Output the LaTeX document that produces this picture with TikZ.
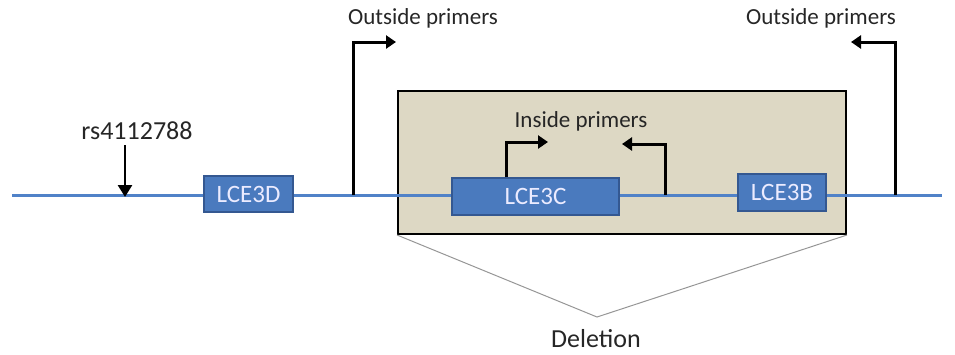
\documentclass[tikz,border=0pt]{standalone}
\usepackage{fontspec}
\setmainfont{Carlito}
\usetikzlibrary{arrows.meta}
\definecolor{geneblue}{RGB}{74,122,190}
\definecolor{geneedge}{RGB}{52,88,145}
\definecolor{linkblue}{RGB}{80,130,200}
\definecolor{delfill}{RGB}{221,216,196}
\definecolor{delgrey}{RGB}{150,150,150}
\tikzset{
  gene/.style={draw=geneedge, line width=1.2pt, fill=geneblue, text=white!92!blue,
    inner sep=0pt, font=\fontsize{25}{27}\selectfont},
  primer/.style={draw=black, line width=3pt,
    -{Triangle[length=10pt,width=13pt]}},
  label/.style={inner sep=0pt, font=\fontsize{23}{25}\selectfont, text=black!85},
}
\begin{document}
\begin{tikzpicture}[x=1pt,y=-1pt]
\useasboundingbox (0,0) rectangle (955,354);
% deleted region
\node[draw=black, line width=2pt, fill=delfill, minimum width=448pt, minimum height=143pt,
  inner sep=0pt, anchor=north west] (del) at (397,90) {};
% chromosome
\coordinate (L) at (12,195);
\coordinate (R) at (942,195);
\draw[linkblue, line width=3pt] (L) -- (R);
% genes
\node[gene, minimum width=89pt, minimum height=36pt] (d) at (248.5,194) {LCE3D};
\node[gene, minimum width=167pt, minimum height=37pt] (c) at (535.5,196.5) {LCE3C};
\node[gene, minimum width=88pt, minimum height=37pt] (b) at (782,192.5) {LCE3B};
% SNP marker
\node[label, font=\fontsize{26}{28}\selectfont] (snp) at (137,131) {rs4112788};
\coordinate (snptip) at (125,197);
\draw[black, line width=2.6pt, -{Triangle[length=12pt,width=14pt]}] (125,145) -- (snptip);
% outside primers
\coordinate (o1) at (353,195);
\coordinate (o1t) at (396,42);
\draw[primer] (o1) |- (o1t);
\coordinate (o2) at (895,195);
\coordinate (o2t) at (851,42);
\draw[primer] (o2) |- (o2t);
\node[label] (olabel1) at (423,18) {Outside primers};
\node[label] (olabel2) at (821,18) {Outside primers};
% inside primers
\coordinate (i1t) at (548,142);
\draw[primer] (c.north -| 506,0) |- (i1t);
\coordinate (i2) at (665,195);
\coordinate (i2t) at (622,144);
\draw[primer] (i2) |- (i2t);
\node[label] (ilabel) at (581,121) {Inside primers};
% deletion bracket
\coordinate (apex) at (597,317);
\draw[delgrey, line width=1pt] (del.south west) -- (apex) -- (del.south east);
\node[label, font=\fontsize{26}{28}\selectfont] (dlabel) at (596,339) {Deletion};
\end{tikzpicture}
\end{document}
